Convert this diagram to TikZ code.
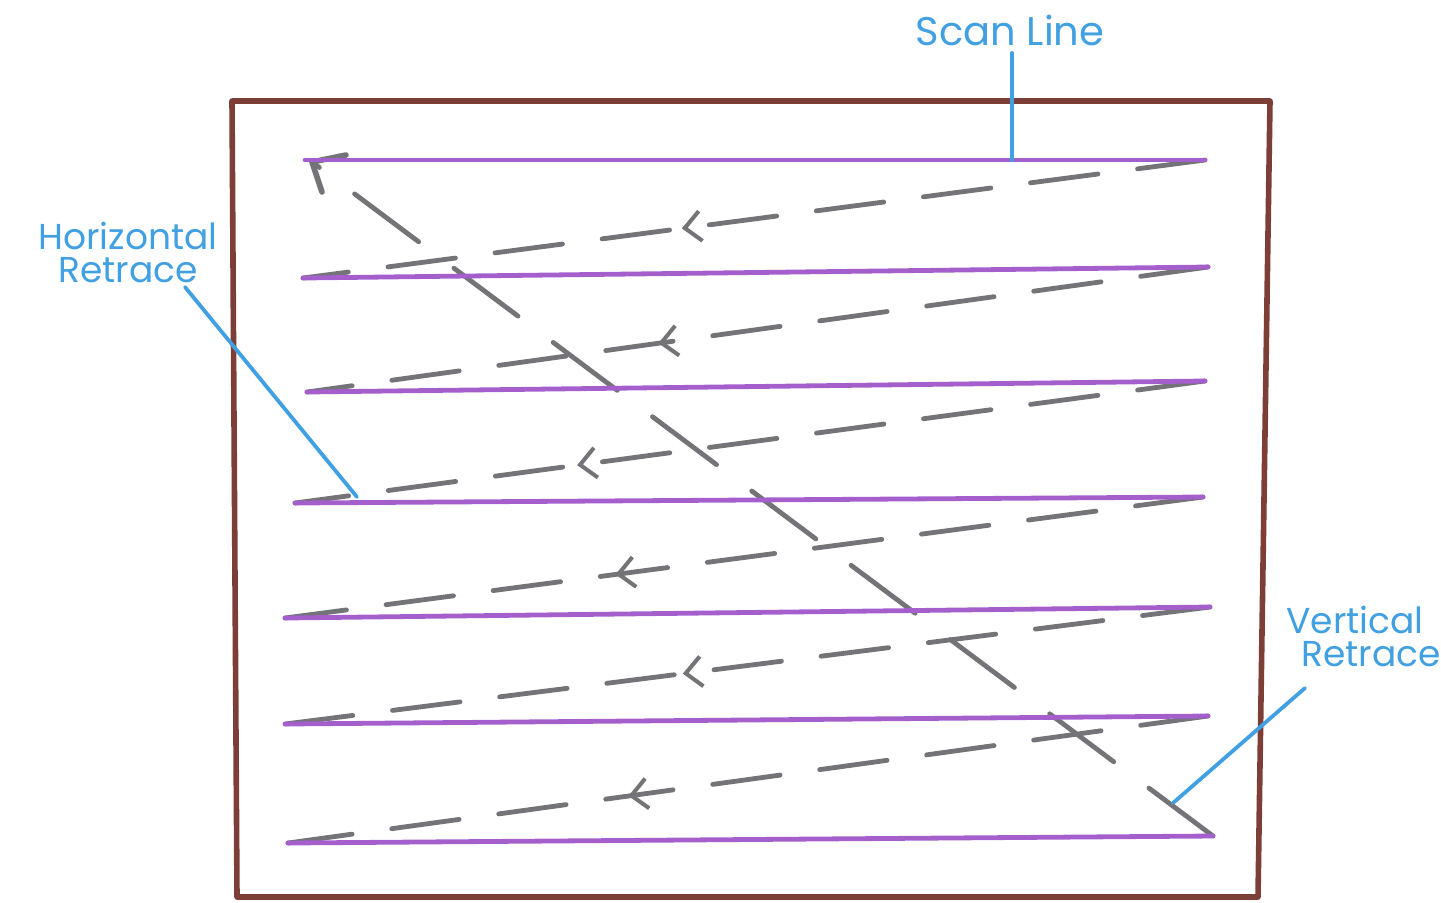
\documentclass[tikz,border=0pt]{standalone}
\usepackage{fontspec}
\setmainfont{Poppins}
\usetikzlibrary{arrows.meta,decorations.markings}
\definecolor{framebrown}{RGB}{125,62,55}
\definecolor{scanpurple}{RGB}{165,95,205}
\definecolor{retgray}{RGB}{115,115,120}
\definecolor{noteblue}{RGB}{65,160,225}
\tikzset{
  framebox/.style={draw=framebrown, line width=2.8pt, line join=round},
  scanline/.style={draw=scanpurple, line width=2.4pt, line cap=round},
  hretrace/.style={draw=retgray, line width=2.4pt, dash pattern=on 34pt off 20pt, line cap=round,
    postaction={decorate, decoration={markings, mark=at position #1 with {\arrow[retgray, solid]{Straight Barb[length=8pt,width=15pt,line width=2pt]}}}}},
  vretrace/.style={draw=retgray, line width=2.4pt, dash pattern=on 40pt off 22pt, line cap=round},
  vtip/.style={draw=retgray, solid, line width=2.8pt, line cap=round, line join=round},
  note/.style={text=noteblue, font=\fontsize{18}{19}\selectfont, inner sep=0pt},
  pointer/.style={draw=noteblue, line width=1.9pt, line cap=round},
}
\begin{document}
\begin{tikzpicture}[x=0.5pt, y=-0.5pt]
\useasboundingbox (0,0) rectangle (1441,902);
% frame
\draw[framebox] (232,101) -- (1270,101) -- (1258,897) -- (237,897) -- cycle;
% scan line end points
\coordinate (L1) at (305,160);  \coordinate (R1) at (1205,160);
\coordinate (L2) at (303,278);  \coordinate (R2) at (1208,267);
\coordinate (L3) at (307,392);  \coordinate (R3) at (1205,381);
\coordinate (L4) at (295,503);  \coordinate (R4) at (1203,497);
\coordinate (L5) at (285,618);  \coordinate (R5) at (1210,607);
\coordinate (L6) at (285,724);  \coordinate (R6) at (1208,716);
\coordinate (L7) at (288,843);  \coordinate (R7) at (1213,836);
% horizontal retraces
\draw[hretrace=0.58] (R1) -- (L2);
\draw[hretrace=0.61] (R2) -- (L3);
\draw[hretrace=0.69] (R3) -- (L4);
\draw[hretrace=0.64] (R4) -- (L5);
\draw[hretrace=0.57] (R5) -- (L6);
\draw[hretrace=0.63] (R6) -- (L7);
% vertical retrace with open arrowhead at its top end
\coordinate (VT) at (312,162);
\coordinate (VA) at (322,192);
\coordinate (VB) at (346,155);
\draw[vretrace] (R7) -- (VT);
\draw[vtip] (VA) -- (VT) -- (VB);
% scan lines
\foreach \i in {1,...,7} {\draw[scanline] (L\i) -- (R\i);}
% annotations
\node[note, font=\fontsize{20}{21}\selectfont] (scan) at (1010,30) {Scan Line};
\coordinate (scanpt) at (1012,160);
\draw[pointer] (1012,53) -- (scanpt);
\node[note] (hret1) at (128,236) {Horizontal};
\node[note] (hret2) at (128,270) {Retrace};
\coordinate (hretpt) at (357,497);
\draw[pointer] (185,287) -- (hretpt);
\node[note] (vret1) at (1355,620) {Vertical};
\node[note] (vret2) at (1371,654) {Retrace};
\coordinate (vretpt) at (1173,803);
\draw[pointer] (1305,688) -- (vretpt);
\end{tikzpicture}
\end{document}
